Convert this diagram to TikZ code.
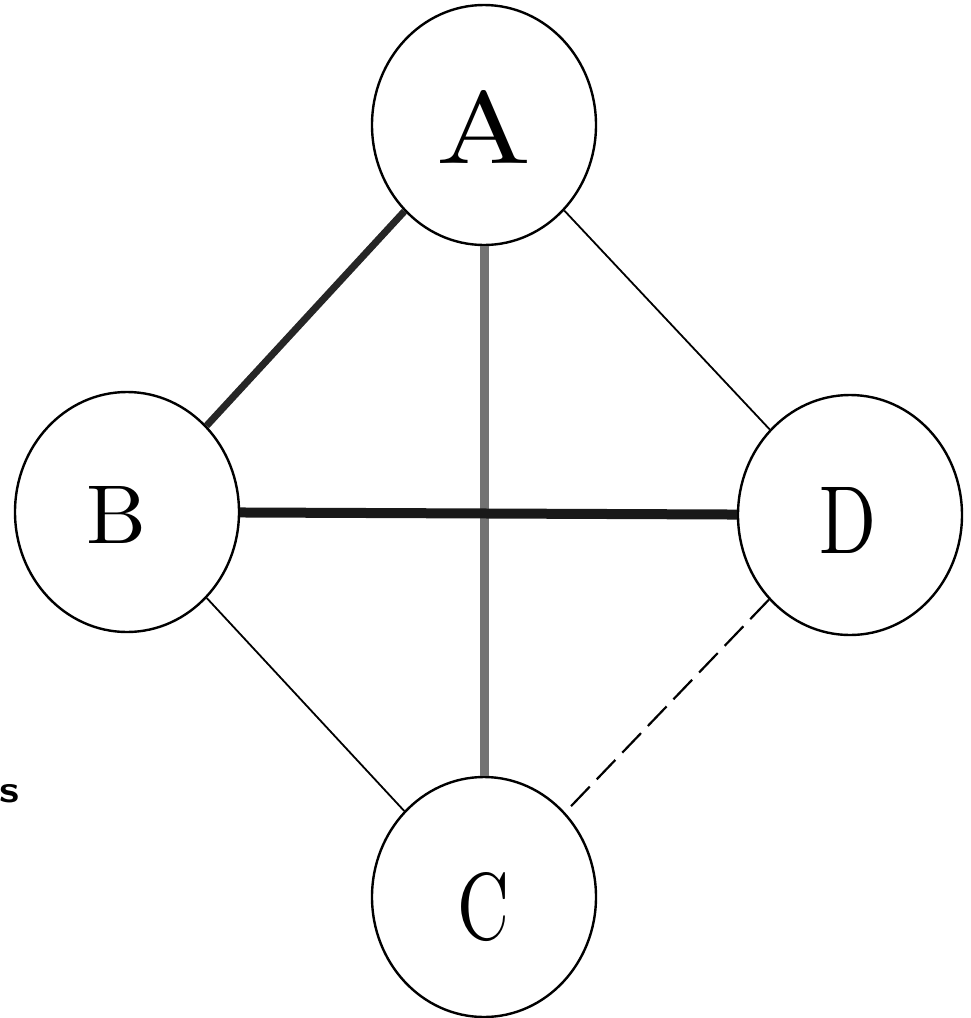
\documentclass[tikz,border=0pt]{standalone}
\usepackage{graphicx}
\usetikzlibrary{shapes.geometric}
\tikzset{
  vertex/.style={ellipse, draw=black, line width=2.4pt, minimum width=224pt, minimum height=240pt, inner sep=0pt},
  letter/.style={inner sep=0pt},
  thinedge/.style={draw=black, line width=1.8pt},
  dashedge/.style={draw=black, line width=2.2pt, dash pattern=on 27pt off 10pt},
  boldedge/.style={draw=black!85, line width=7pt},
  greyedge/.style={draw=black!55, line width=9pt},
  heavyedge/.style={draw=black!90, line width=10pt}
}
\begin{document}
\begin{tikzpicture}[x=1pt,y=-1pt]
\useasboundingbox (0,0) rectangle (971,1018);
\node[vertex] (A) at (484,125) {};
\node[vertex] (B) at (127,512) {};
\node[vertex] (D) at (850,515) {};
\node[vertex] (C) at (484,897) {};
\node[letter] (lA) at (484,127) {\resizebox{95pt}{73pt}{A}};
\node[letter] (lB) at (117,515) {\resizebox{60pt}{57pt}{B}};
\node[letter] (lD) at (848,520) {\resizebox{57pt}{66pt}{D}};
\node[letter] (lC) at (484,907) {\resizebox{52pt}{67pt}{C}};
\draw[boldedge] (A) -- (B);
\draw[greyedge] (A) -- (C);
\draw[heavyedge] (B) -- (D);
\draw[thinedge] (A) -- (D);
\draw[thinedge] (B) -- (C);
\draw[dashedge] (D) -- (C);
\node[letter] (s) at (10,794) {\resizebox{20pt}{18pt}{\sffamily\bfseries s}};
\end{tikzpicture}
\end{document}
